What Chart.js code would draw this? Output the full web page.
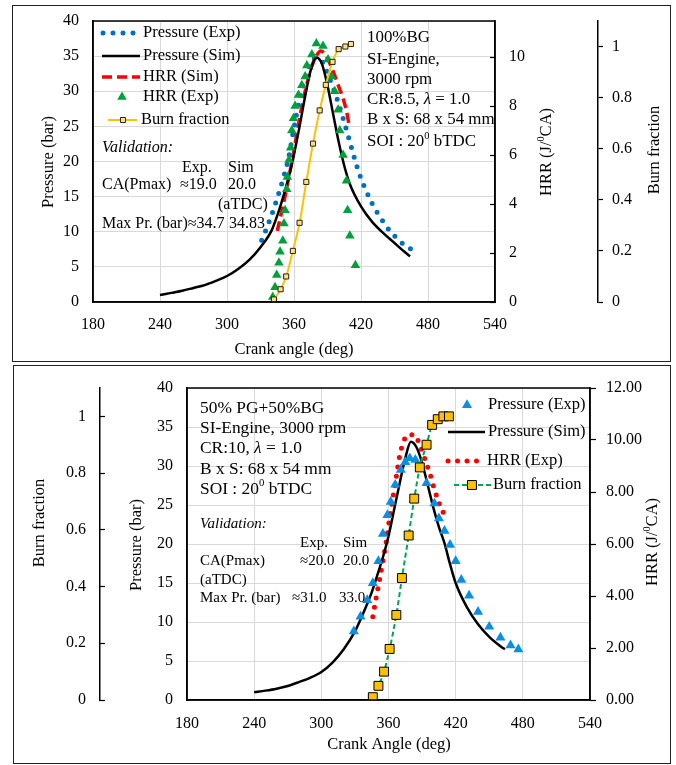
<!DOCTYPE html>
<html lang="en">
<head>
<meta charset="UTF-8" />
<title>Pressure, HRR and burn fraction vs crank angle</title>
<script src="https://cdn.jsdelivr.net/npm/chart.js"></script>
<style>
  html, body { margin: 0; padding: 0; background: #fff; }
  body { width: 676px; height: 765px; position: relative; overflow: hidden; }
  .panel { position: absolute; box-sizing: border-box; border: 1.5px solid #222; }
  canvas { position: absolute; }
</style>
</head>
<body>
<div class="panel" style="left:12px;top:5px;width:659px;height:357px"></div>
<div class="panel" style="left:13px;top:365px;width:658px;height:399px"></div>
<canvas id="topChart" width="660" height="358" style="left:12px;top:5px"></canvas>
<canvas id="bottomChart" width="658" height="399" style="left:13px;top:365px"></canvas>
<script>
// ---- top panel: 100%BG ----
const topSimAngle = [240, 250, 260, 270, 280, 290, 300, 310, 320, 330, 340, 345, 350, 355, 360, 365, 370, 375, 380, 385, 390, 395, 400, 405, 410, 420, 430, 440, 450, 460, 464];
const topSimPressure = [1.0, 1.3, 1.6, 2.0, 2.4, 3.0, 3.7, 4.7, 6.0, 7.8, 10.2, 12.3, 14.8, 17.6, 21.0, 25.0, 29.3, 33.0, 34.8, 33.9, 30.8, 26.8, 22.8, 19.4, 16.8, 13.6, 11.4, 9.8, 8.4, 7.0, 6.5];

const topExpAngle = [331, 335, 340, 345, 350, 355, 360, 365, 370, 375, 379, 385, 390, 395, 400, 405, 410, 415, 420, 425, 430, 435, 440, 445, 450, 455, 460, 465, 472];
const topExpPressure = [8.8, 10.3, 12.4, 14.8, 17.4, 20.4, 24.8, 28.8, 31.8, 34.0, 34.7, 34.3, 32.6, 30.5, 28.2, 25.6, 22.8, 20.0, 17.6, 15.7, 14.0, 12.6, 11.4, 10.3, 9.4, 8.6, 8.0, 7.5, 7.0];

const topHrrSimAngle = [345, 350, 355, 360, 365, 370, 375, 380, 384, 388, 392, 396, 400, 404, 407, 409];
const topHrrSim = [2.9, 3.9, 5.0, 6.2, 7.5, 8.6, 9.5, 10.05, 10.25, 10.1, 9.75, 9.3, 8.8, 8.3, 7.8, 7.3];

const topHrrExpAngle = [341, 343, 344.5, 346.5, 347.5, 350, 351, 352, 353.5, 354, 355.5, 357, 358, 359.5, 361, 364, 367, 370, 371.5, 376, 380, 386, 390.5, 393.5, 396.5, 399.5, 401, 404, 407, 408, 410, 415];
const topHrrExp = [0.2, 0.6, 1.1, 1.6, 2.05, 2.5, 3.2, 3.75, 4.6, 5.1, 5.8, 6.3, 7.0, 7.5, 8.0, 8.45, 8.85, 9.2, 9.65, 10.1, 10.55, 10.45, 9.9, 9.2, 8.6, 7.85, 7.0, 6.0, 4.95, 3.75, 2.7, 1.5];

const topBurnAngle = [342, 348, 353, 359, 365, 371, 377, 383, 388.5, 394.5, 400, 406, 411];
const topBurn = [0.01, 0.05, 0.10, 0.20, 0.31, 0.47, 0.62, 0.75, 0.85, 0.94, 0.99, 1.0, 1.01];

// ---- bottom panel: 50% PG + 50% BG ----
const botSimAngle = [240, 250, 260, 270, 280, 290, 300, 310, 320, 330, 340, 345, 350, 355, 360, 365, 370, 375, 380, 385, 390, 395, 400, 405, 410, 415, 420, 430, 440, 450, 460, 464];
const botSimPressure = [1.0, 1.2, 1.45, 1.8, 2.3, 2.85, 3.6, 4.8, 6.5, 8.8, 12.0, 13.8, 16.0, 18.3, 21.0, 24.4, 27.8, 31.0, 33.1, 32.4, 30.4, 27.6, 24.7, 22.2, 20.1, 17.4, 15.0, 11.9, 9.7, 8.1, 6.9, 6.5];

const botExpAngle = [329, 335, 341, 346, 351, 355, 359, 362, 366, 371, 375, 379, 384, 394, 401, 405, 410, 415, 420, 425, 432, 440, 450, 460, 469, 476];
const botExpPressure = [8.8, 10.7, 12.8, 15.0, 17.8, 21.3, 23.7, 25.4, 27.6, 29.5, 30.5, 31.0, 30.8, 27.8, 25.2, 23.3, 21.7, 19.9, 17.8, 15.4, 13.4, 11.3, 9.4, 8.0, 7.0, 6.5];

const botHrrAngle = [346, 348, 351, 354, 358, 361, 364, 367, 370, 374, 378, 383, 388, 393, 397, 401, 405, 409, 412];
const botHrr = [3.2, 3.7, 4.4, 5.1, 6.1, 7.0, 7.8, 8.6, 9.4, 10.0, 10.2, 10.2, 9.8, 9.2, 8.7, 8.1, 7.6, 7.2, 7.0];

const botBurnAngle = [346, 351, 356, 361, 367, 372, 378, 383, 388, 394, 399, 404, 409, 414];
const botBurn = [0.01, 0.05, 0.10, 0.18, 0.30, 0.43, 0.58, 0.71, 0.82, 0.90, 0.97, 0.99, 1.0, 1.0];

const SERIF = "'Liberation Serif', 'Times New Roman', serif";
const GRID = '#d9d9d9';
const TXT = 16.5;
Chart.defaults.font.family = SERIF;
Chart.defaults.font.size = 16;
Chart.defaults.color = '#000';

const pts = (xs, ys) => xs.map((x, i) => ({ x: x, y: ys[i] }));
const fracLabel = v => String(+v.toFixed(1));
// fixed axis width; drop the label overhang padding so the plot area stays where we put it
const fixW = w => s => { s.width = w; s.paddingTop = 0; s.paddingBottom = 0; };

// "^..^" = superscript, "_.._" = italic
function parseRich(str) {
  const parts = [];
  let cur = '', sup = false, it = false;
  for (const ch of str) {
    if (ch === '^' || ch === '_') {
      if (cur) parts.push({ t: cur, sup: sup, italic: it });
      cur = '';
      if (ch === '^') sup = !sup; else it = !it;
    } else cur += ch;
  }
  if (cur) parts.push({ t: cur, sup: sup, italic: it });
  return parts;
}
function setFont(ctx, p, size) {
  ctx.font = (p.italic ? 'italic ' : '') + (p.sup ? size * 0.62 : size) + 'px ' + SERIF;
}
function drawRich(ctx, str, x, y, center, size) {
  size = size || TXT;
  const parts = parseRich(str);
  ctx.textBaseline = 'middle';
  ctx.textAlign = 'left';
  if (center) {
    let w = 0;
    parts.forEach(p => { setFont(ctx, p, size); w += ctx.measureText(p.t).width; });
    x -= w / 2;
  }
  parts.forEach(p => {
    setFont(ctx, p, size);
    ctx.fillText(p.t, x, p.sup ? y - size * 0.32 : y);
    x += ctx.measureText(p.t).width;
  });
}
function drawMarker(ctx, style, r, x, y, fill, stroke, bw) {
  ctx.save();
  ctx.setLineDash([]);
  ctx.beginPath();
  if (style === 'triangle') {
    for (let k = 0; k < 3; k++) {
      const a = k * 2 * Math.PI / 3;
      const px = x + Math.sin(a) * r, py = y - Math.cos(a) * r;
      if (k) ctx.lineTo(px, py); else ctx.moveTo(px, py);
    }
    ctx.closePath();
  } else {
    const s = r * Math.SQRT1_2;
    ctx.rect(x - s, y - s, 2 * s, 2 * s);
  }
  ctx.fillStyle = fill;
  ctx.fill();
  if (bw) { ctx.lineWidth = bw; ctx.strokeStyle = stroke; ctx.stroke(); }
  ctx.restore();
}

// frame, texts, axis titles and legend drawn on top of the chart
function makeDecor(spec) {
  return {
    id: 'decor',
    afterDatasetsDraw(chart) {
      const a = chart.chartArea, ctx = chart.ctx;
      ctx.save();
      ctx.strokeStyle = '#000';
      ctx.lineWidth = 1.5;
      ctx.strokeRect(a.left, a.top, a.right - a.left, a.bottom - a.top);
      ctx.restore();
    },
    afterDraw(chart) {
      const ctx = chart.ctx;
      ctx.save();
      ctx.fillStyle = '#000';
      spec.texts.forEach(t => drawRich(ctx, t[0], t[1], t[2], false, t[3]));
      spec.titles.forEach(t => {
        ctx.save();
        ctx.translate(t.x, t.y);
        if (t.rot) ctx.rotate(-Math.PI / 2);
        drawRich(ctx, t.t, 0, 0, true);
        ctx.restore();
      });
      spec.legend.forEach(e => {
        const ds = chart.data.datasets[e.ds];
        if (e.x1 !== undefined) {
          ctx.save();
          ctx.strokeStyle = ds.borderColor;
          ctx.lineWidth = ds.borderWidth;
          ctx.setLineDash(ds.borderDash || []);
          ctx.lineCap = ds.borderCapStyle || 'butt';
          ctx.beginPath();
          ctx.moveTo(e.x1, e.y);
          ctx.lineTo(e.x2, e.y);
          ctx.stroke();
          ctx.restore();
        }
        if (e.mx !== undefined) {
          drawMarker(ctx, ds.pointStyle, ds.pointRadius, e.mx, e.y,
            ds.pointBackgroundColor, ds.pointBorderColor, ds.pointBorderWidth);
        }
        ctx.fillStyle = '#000';
        drawRich(ctx, ds.label, e.tx, e.y, false);
      });
      ctx.restore();
    }
  };
}

const border = { color: '#000', width: 1.5 };

// ---------------- top chart ----------------
new Chart(document.getElementById('topChart'), {
  type: 'line',
  data: {
    datasets: [
      { label: 'Pressure (Exp)', data: pts(topExpAngle, topExpPressure), yAxisID: 'p',
        borderColor: '#0070C0', borderWidth: 5, borderDash: [0, 10], borderCapStyle: 'round',
        pointRadius: 0, cubicInterpolationMode: 'monotone', order: 3 },
      { label: 'Pressure (Sim)', data: pts(topSimAngle, topSimPressure), yAxisID: 'p',
        borderColor: '#000', borderWidth: 2.5, pointRadius: 0, cubicInterpolationMode: 'monotone', order: 2 },
      { label: 'HRR (Sim)', data: pts(topHrrSimAngle, topHrrSim), yAxisID: 'hrr',
        borderColor: '#FF0000', borderWidth: 3.5, borderDash: [10, 5], pointRadius: 0,
        cubicInterpolationMode: 'monotone', order: 4 },
      { label: 'HRR (Exp)', data: pts(topHrrExpAngle, topHrrExp), yAxisID: 'hrr', showLine: false,
        pointStyle: 'triangle', pointRadius: 5.5, pointBackgroundColor: '#00A03C',
        pointBorderColor: '#00A03C', pointBorderWidth: 0, order: 1 },
      { label: 'Burn fraction', data: pts(topBurnAngle, topBurn), yAxisID: 'bf',
        borderColor: '#FFC000', borderWidth: 2, pointStyle: 'rect', pointRadius: 3.6,
        pointBackgroundColor: '#FFE27A', pointBorderColor: '#222', pointBorderWidth: 1,
        cubicInterpolationMode: 'monotone', order: 0 }
    ]
  },
  options: {
    responsive: false, animation: false, devicePixelRatio: 1,
    layout: { padding: { top: 16, left: 0, right: 0, bottom: 0 } },
    plugins: { legend: { display: false }, tooltip: { enabled: false } },
    scales: {
      x: { type: 'linear', min: 180, max: 540, afterFit: s => { s.height = 61; },
        grid: { color: GRID, drawTicks: false }, border: border,
        ticks: { stepSize: 60, padding: 13, maxRotation: 0, autoSkip: false } },
      p: { position: 'left', min: 0, max: 40, afterFit: fixW(81),
        grid: { color: GRID, drawTicks: false }, border: border,
        ticks: { stepSize: 5, padding: 14 } },
      hrr: { position: 'right', weight: 0, min: 0, max: 11.47, afterFit: fixW(103),
        grid: { drawOnChartArea: false, tickLength: -5, tickColor: '#000', tickWidth: 1.2 }, border: border,
        ticks: { stepSize: 2, padding: 19, includeBounds: false } },
      bf: { position: 'right', weight: 1, min: 0, max: 1.1, afterFit: fixW(74),
        grid: { drawOnChartArea: false, tickLength: 5, tickColor: '#000', tickWidth: 1.2 }, border: border,
        ticks: { stepSize: 0.2, padding: 9, includeBounds: false, callback: fracLabel } }
    }
  },
  plugins: [makeDecor({
    texts: [
      ['_Validation:_', 90, 143, 16], ['Exp.', 170, 163, 16], ['Sim', 216, 163, 16],
      ['CA(Pmax)', 90, 180, 16], ['≈19.0', 168, 180, 16], ['20.0', 216, 180, 16],
      ['(aTDC)', 206, 200, 16], ['Max Pr. (bar)≈34.7', 90, 219, 16], ['34.83', 217, 219, 16],
      ['100%BG', 355, 33, 16.9], ['SI-Engine,', 355, 55, 16.9], ['3000 rpm', 355, 75, 16.9],
      ['CR:8.5, _λ_ = 1.0', 355, 95, 16.9], ['B x S: 68 x 54 mm', 355, 115, 16.9],
      ['SOI : 20^0^ bTDC', 355, 137, 16.9]
    ],
    titles: [
      { t: 'Pressure (bar)', x: 37, y: 157, rot: true },
      { t: 'HRR (J/^0^CA)', x: 535, y: 147, rot: true },
      { t: 'Burn fraction', x: 643, y: 145, rot: true },
      { t: 'Crank angle (deg)', x: 282, y: 345 }
    ],
    legend: [
      { ds: 0, y: 28, x1: 91, x2: 122, tx: 131 },
      { ds: 1, y: 51, x1: 90, x2: 128, tx: 131 },
      { ds: 2, y: 72, x1: 90, x2: 128, tx: 131 },
      { ds: 3, y: 92, mx: 110, tx: 131 },
      { ds: 4, y: 115, x1: 96, x2: 125, mx: 111, tx: 129 }
    ]
  })]
});

// ---------------- bottom chart ----------------
new Chart(document.getElementById('bottomChart'), {
  type: 'line',
  data: {
    datasets: [
      { label: 'Pressure (Exp)', data: pts(botExpAngle, botExpPressure), yAxisID: 'p', showLine: false,
        pointStyle: 'triangle', pointRadius: 5.8, pointBackgroundColor: '#0A8FE3',
        pointBorderColor: '#0A8FE3', pointBorderWidth: 0, order: 1 },
      { label: 'Pressure (Sim)', data: pts(botSimAngle, botSimPressure), yAxisID: 'p',
        borderColor: '#000', borderWidth: 2.5, pointRadius: 0, cubicInterpolationMode: 'monotone', order: 2 },
      { label: 'HRR (Exp)', data: pts(botHrrAngle, botHrr), yAxisID: 'hrr',
        borderColor: '#FF0000', borderWidth: 5, borderDash: [0, 9.5], borderCapStyle: 'round',
        pointRadius: 0, cubicInterpolationMode: 'monotone', order: 3 },
      { label: 'Burn fraction', data: pts(botBurnAngle, botBurn), yAxisID: 'bf',
        borderColor: '#00A651', borderWidth: 2, borderDash: [5, 3], pointStyle: 'rect', pointRadius: 6.3,
        pointBackgroundColor: '#FFC000', pointBorderColor: '#000', pointBorderWidth: 1,
        cubicInterpolationMode: 'monotone', order: 0 }
    ]
  },
  options: {
    responsive: false, animation: false, devicePixelRatio: 1,
    layout: { padding: { top: 23, left: 0, right: 0, bottom: 0 } },
    plugins: { legend: { display: false }, tooltip: { enabled: false } },
    scales: {
      x: { type: 'linear', min: 180, max: 540, afterFit: s => { s.height = 64; },
        grid: { color: GRID, drawTicks: false }, border: border,
        ticks: { stepSize: 60, padding: 14, maxRotation: 0, autoSkip: false } },
      p: { position: 'left', weight: 0, min: 0, max: 40, afterFit: fixW(87),
        grid: { color: GRID, drawTicks: false }, border: border,
        ticks: { stepSize: 5, padding: 14 } },
      bf: { position: 'left', weight: 1, min: 0, max: 1.1, afterFit: fixW(87),
        grid: { drawOnChartArea: false, tickLength: -5, tickColor: '#000', tickWidth: 1.2 }, border: border,
        ticks: { stepSize: 0.2, padding: 19, includeBounds: false, callback: fracLabel } },
      hrr: { position: 'right', min: 0, max: 12, afterFit: fixW(81),
        grid: { drawOnChartArea: false, tickLength: 6, tickColor: '#000', tickWidth: 1.2 }, border: border,
        ticks: { stepSize: 2, padding: 10, callback: v => v.toFixed(2) } }
    }
  },
  plugins: [makeDecor({
    texts: [
      ['50% PG+50%BG', 187, 43, 17.4], ['SI-Engine, 3000 rpm', 187, 63, 17.4], ['CR:10, _λ_ = 1.0', 187, 83, 17.4],
      ['B x S: 68 x 54 mm', 187, 104, 17.4], ['SOI : 20^0^ bTDC', 187, 124, 17.4],
      ['_Validation:_', 187, 159, 15], ['Exp.', 287, 178, 15], ['Sim', 330, 178, 15],
      ['CA(Pmax)', 187, 196, 15], ['≈20.0', 287, 196, 15], ['20.0', 330, 196, 15],
      ['(aTDC)', 187, 215, 15], ['Max Pr. (bar)', 187, 233, 15], ['≈31.0', 279, 233, 15], ['33.0', 326, 233, 15]
    ],
    titles: [
      { t: 'Burn fraction', x: 27, y: 158, rot: true },
      { t: 'Pressure (bar)', x: 124, y: 180, rot: true },
      { t: 'HRR (J/^0^CA)', x: 640, y: 177, rot: true },
      { t: 'Crank Angle (deg)', x: 376, y: 380 }
    ],
    legend: [
      { ds: 0, y: 40, mx: 454, tx: 475 },
      { ds: 1, y: 67, x1: 435, x2: 472, tx: 475 },
      { ds: 2, y: 96, x1: 435, x2: 470, tx: 474 },
      { ds: 3, y: 120, x1: 441, x2: 479, mx: 459, tx: 480 }
    ]
  })]
});
</script>
</body>
</html>
